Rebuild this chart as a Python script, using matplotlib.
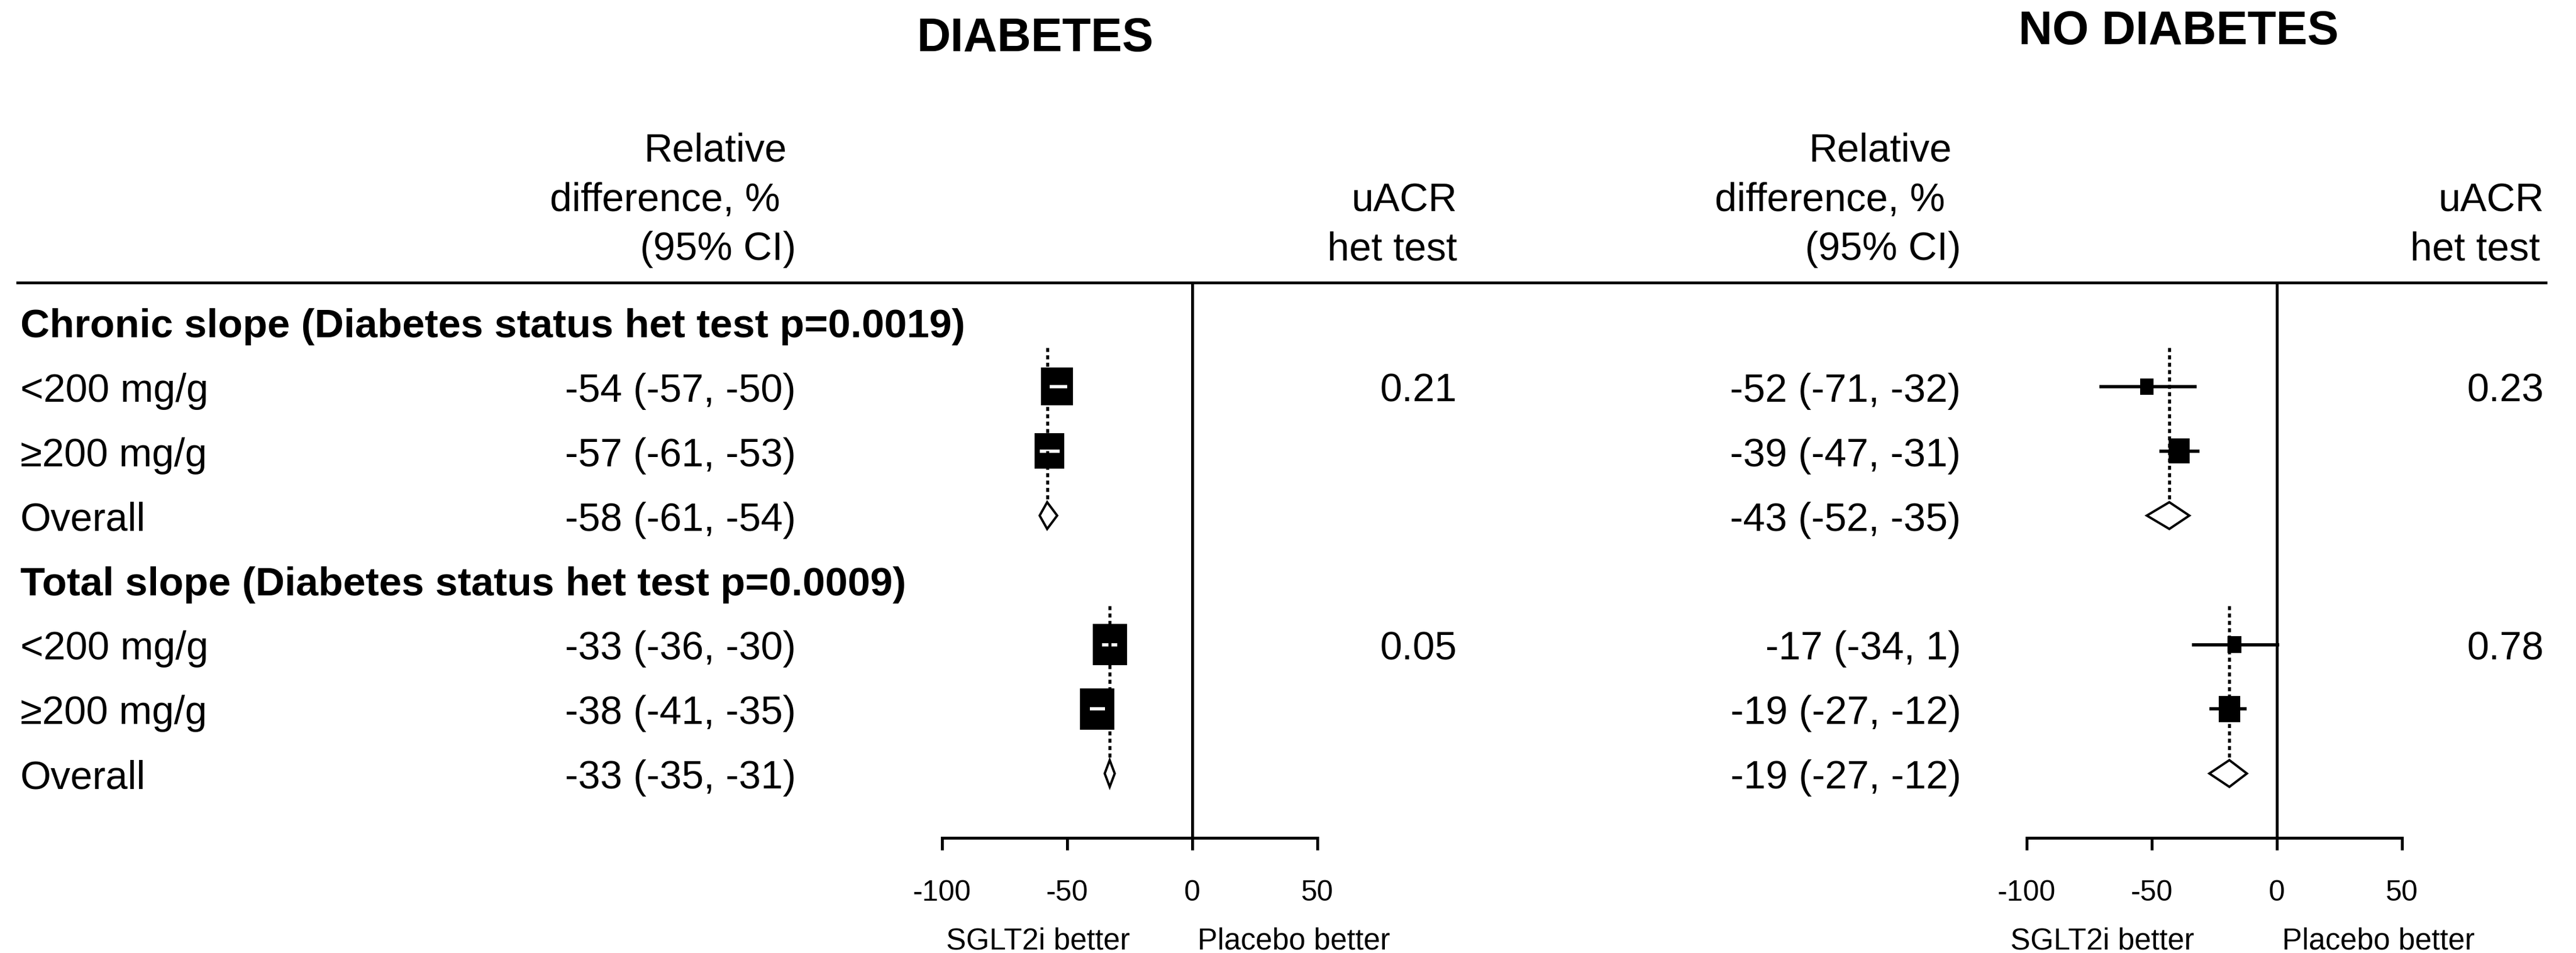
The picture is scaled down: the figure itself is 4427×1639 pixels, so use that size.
# ================================================================
# 0. Section: Imports
# ================================================================
import numpy as np
import matplotlib
matplotlib.use("Agg")

from matplotlib import pyplot as plt
from matplotlib import transforms as mtransforms
from matplotlib.lines import Line2D
from matplotlib.patches import Rectangle, Polygon

plt.rcParams["font.family"] = ["Liberation Sans", "DejaVu Sans"]


# ================================================================
# 1. Section: Data
# ================================================================
row_labels = [
    "Chronic slope (Diabetes status het test p=0.0019)",
    "<200 mg/g", "\u2265200 mg/g", "Overall",
    "Total slope (Diabetes status het test p=0.0009)",
    "<200 mg/g", "\u2265200 mg/g", "Overall",
]
row_kinds = ["header", "sub", "sub", "overall", "header", "sub", "sub", "overall"]

diabetes_est = [-54, -57, -58, -33, -38, -33]
diabetes_lo = [-57, -61, -61, -36, -41, -35]
diabetes_hi = [-50, -53, -54, -30, -35, -31]
diabetes_het = ["0.21", "0.05"]

no_diabetes_est = [-52, -39, -43, -17, -19, -19]
no_diabetes_lo = [-71, -47, -52, -34, -27, -27]
no_diabetes_hi = [-32, -31, -35, 1, -12, -12]
no_diabetes_het = ["0.23", "0.78"]

x_ticks = [-100, -50, 0, 50]
x_range = (-100, 50)

est_header = ["Relative", "difference, %", "(95% CI)"]
het_header = ["uACR", "het test"]


# ================================================================
# 2. Section: Layout (pixels of the 4427 x 1640 canvas)
# ================================================================
W, H, DPI = 4427, 1640, 100
ROW0_Y, ROW_STEP = 555, 110.9
RULE_Y, AXIS_Y = 487, 1442
BOX_K = 144.5          # box width in px = BOX_K / sqrt(CI width)
BOX_ASPECT = 1.19
DIAMOND_H = 46
LW = 3.4
CI_LW = 4.0
FS_BODY, FS_HEAD, FS_TITLE, FS_TICK = 49, 50, 58, 36

PANELS = [
    dict(title="DIABETES", title_xy=(1779, 88), axis_px=(1619, 2264),
         value_x=1368, est_head_x=(1352, 1341, 1368), est_head_y=(278, 363, 447),
         het_x=2504, het_head_x=(2504, 2504), het_head_y=(363, 447),
         sglt_right=-25, placebo_left=2.2),
    dict(title="NO DIABETES", title_xy=(3744, 76), axis_px=(3483, 4128),
         value_x=3370, est_head_x=(3354, 3343, 3370), est_head_y=(278, 363, 447),
         het_x=4372, het_head_x=(4372, 4365), het_head_y=(363, 447),
         sglt_right=-33, placebo_left=2.2),
]


def fig_xy(x, y):
    return x / W, 1 - y / H


# ================================================================
# 3. Section: Forest panel
# ================================================================
def draw_panel(fig, panel, est, lo, hi, het):

    # 1. Axes: x in % units, y in row units (inverted)
    x0, x1 = panel["axis_px"]
    ax = fig.add_axes([x0 / W, 1 - AXIS_Y / H, (x1 - x0) / W, (AXIS_Y - RULE_Y) / H])
    ax.set_xlim(*x_range)
    ax.set_ylim((AXIS_Y - ROW0_Y) / ROW_STEP, (RULE_Y - ROW0_Y) / ROW_STEP)
    px_per_unit = (x1 - x0) / (x_range[1] - x_range[0])

    for side in ("left", "right", "top"):
        ax.spines[side].set_visible(False)
    ax.spines["bottom"].set_bounds(*x_range)
    ax.spines["bottom"].set_linewidth(3.6)
    ax.set_yticks([])
    ax.set_xticks(x_ticks)
    ax.set_xticklabels([str(t) for t in x_ticks])
    ax.tick_params(axis="x", length=15, width=3.6, pad=36, labelsize=FS_TICK, direction="out")
    ax.patch.set_alpha(0)

    # 2. Line of no effect
    ax.axvline(0, color="black", lw=3.6, zorder=2)

    # 3. Marks for every non-header row
    data_rows = [i for i, k in enumerate(row_kinds) if k != "header"]
    for j, r in enumerate(data_rows):
        e, l, h = est[j], lo[j], hi[j]
        if row_kinds[r] == "sub":
            w_px = BOX_K / np.sqrt(h - l)
            bw = w_px / px_per_unit
            bh = w_px * BOX_ASPECT / ROW_STEP
            ax.add_patch(Rectangle((e - bw / 2, r - bh / 2), bw, bh,
                                   facecolor="black", edgecolor="none", zorder=4))
            inside = (e - bw / 2 <= l) and (h <= e + bw / 2)
            ax.plot([l, h], [r, r], color="white" if inside else "black", lw=CI_LW,
                    solid_capstyle="butt", zorder=5 if inside else 3, clip_on=False)
        else:
            dh = DIAMOND_H / ROW_STEP
            ax.add_patch(Polygon([(l, r), (e, r - dh / 2), (h, r), (e, r + dh / 2)],
                                 closed=True, facecolor="white", edgecolor="black",
                                 lw=2.9, joinstyle="miter", zorder=4))
            # dotted reference line through the subgroup rows
            first = max(i for i in range(r) if row_kinds[i] == "header") + 1
            ax.plot([e, e], [first - 0.6, r - dh / 2], color="black", lw=3.8,
                    dashes=(1.3, 1.1), zorder=6, clip_on=False)

    # 4. Estimate and het-test columns
    row_tr = mtransforms.offset_copy(
        mtransforms.blended_transform_factory(fig.transFigure, ax.transData),
        fig=fig, y=-25, units="dots")
    for j, r in enumerate(data_rows):
        ax.text(panel["value_x"] / W, r, f"{est[j]} ({lo[j]}, {hi[j]})",
                transform=row_tr, ha="right", va="baseline", fontsize=FS_BODY)
    het_rows = [i for i, k in enumerate(row_kinds) if k == "sub" and row_kinds[i - 1] == "header"]
    for r, p in zip(het_rows, het):
        ax.text(panel["het_x"] / W, r, p, transform=row_tr,
                ha="right", va="baseline", fontsize=FS_BODY)

    # 5. Column headings and title
    for txt, x, y in zip(est_header, panel["est_head_x"], panel["est_head_y"]):
        fig.text(*fig_xy(x, y), txt, ha="right", va="baseline", fontsize=FS_BODY)
    for txt, x, y in zip(het_header, panel["het_head_x"], panel["het_head_y"]):
        fig.text(*fig_xy(x, y), txt, ha="right", va="baseline", fontsize=FS_BODY)
    fig.text(*fig_xy(*panel["title_xy"]), panel["title"], ha="center", va="baseline",
             fontsize=FS_TITLE, fontweight="bold")

    # 6. Direction labels under the axis
    lab_tr = mtransforms.blended_transform_factory(ax.transData, fig.transFigure)
    ax.text(panel["sglt_right"], 1 - 1633 / H, "SGLT2i better", transform=lab_tr,
            ha="right", va="baseline", fontsize=37)
    ax.text(panel["placebo_left"], 1 - 1633 / H, "Placebo better", transform=lab_tr,
            ha="left", va="baseline", fontsize=37)

    return ax


# ================================================================
# 4. Section: Figure
# ================================================================
fig = plt.figure(figsize=(W / DPI, H / DPI), dpi=DPI)

ax_left = draw_panel(fig, PANELS[0], diabetes_est, diabetes_lo, diabetes_hi, diabetes_het)
draw_panel(fig, PANELS[1], no_diabetes_est, no_diabetes_lo, no_diabetes_hi, no_diabetes_het)

# Row labels on the far left
label_tr = mtransforms.offset_copy(
    mtransforms.blended_transform_factory(fig.transFigure, ax_left.transData),
    fig=fig, y=-25, units="dots")
for i, (txt, kind) in enumerate(zip(row_labels, row_kinds)):
    is_head = kind == "header"
    ax_left.text(35 / W, i, txt, transform=label_tr, ha="left", va="baseline",
                 fontsize=FS_HEAD if is_head else FS_BODY,
                 fontweight="bold" if is_head else "normal")

# Rule under the column headings
fig.add_artist(Line2D([30 / W, 4375 / W], [1 - RULE_Y / H] * 2,
                      transform=fig.transFigure, color="black", lw=LW))

fig.savefig("out.png", dpi=DPI)
